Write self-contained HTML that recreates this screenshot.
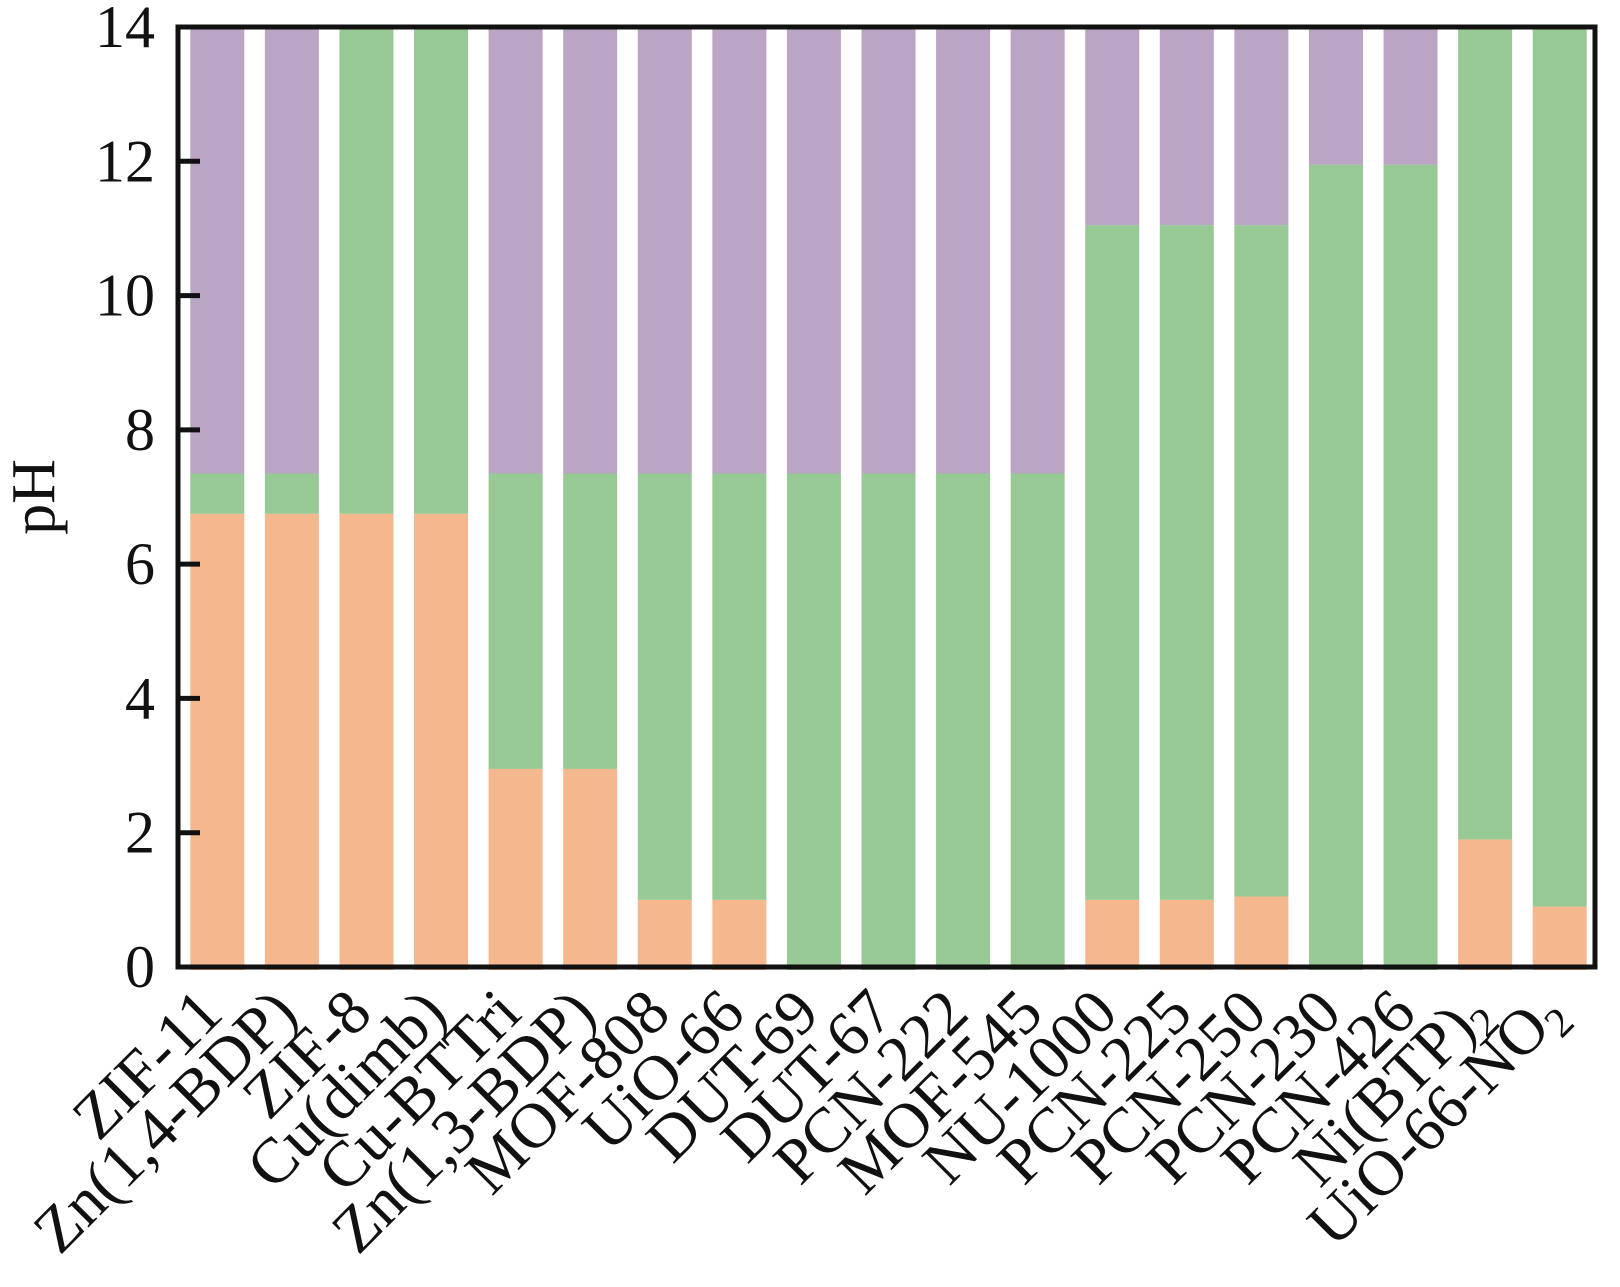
<!DOCTYPE html>
<html><head><meta charset="utf-8"><style>
html,body{margin:0;padding:0;background:#fff;}
svg{display:block;}
text{font-family:"Liberation Serif","Times New Roman",Times,serif;fill:#111;}
</style></head><body>
<svg id="chart" width="1620" height="1287" viewBox="0 0 1620 1287" xmlns="http://www.w3.org/2000/svg"></svg>
<script>
const categories = ["ZIF-11","Zn(1,4-BDP)","ZIF-8","Cu(dimb)","Cu-BTTri","Zn(1,3-BDP)","MOF-808","UiO-66","DUT-69","DUT-67","PCN-222","MOF-545","NU-1000","PCN-225","PCN-250","PCN-230","PCN-426","Ni(BTP)2","UiO-66-NO2"];
const lowerPH = [6.75,6.75,6.75,6.75,2.95,2.95,1,1,0,0,0,0,1,1,1.05,0,0,1.9,0.9];
const upperPH = [7.35,7.35,14,14,7.35,7.35,7.35,7.35,7.35,7.35,7.35,7.35,11.05,11.05,11.05,11.95,11.95,14,14];
const maxPH = [14,14,14,14,14,14,14,14,14,14,14,14,14,14,14,14,14,14,14];
const yTicks = [0,2,4,6,8,10,12,14];

const svg = document.getElementById('chart');
const NS = 'http://www.w3.org/2000/svg';
const FONT = '"Liberation Serif", "Times New Roman", Times, serif';
const L = 178, R = 1595, T = 27, B = 967;
const band = (R - L) / categories.length;
const barW = 54;
function x(i){ return L + band * i + band / 2 + 2; }
function y(v){ return B - (v / 14) * (B - T); }
function mk(tag, attrs){ const e = document.createElementNS(NS, tag); for (const k in attrs) e.setAttribute(k, attrs[k]); svg.appendChild(e); return e; }

categories.forEach((c, i) => {
  const cx = x(i);
  const segs = [[0, lowerPH[i], '#F5B78E', 'acid-range'], [lowerPH[i], upperPH[i], '#97C994', 'stable-range'], [upperPH[i], maxPH[i], '#BBA5C5', 'base-range']];
  segs.forEach(s => {
    if (s[1] - s[0] <= 0) return;
    const bot = s[0] === 0 ? y(0) + 3 : y(s[0]);
    const r = mk('rect', {x: cx - barW/2, y: y(s[1]), width: barW, height: bot - y(s[1]), fill: s[2]});
    
    
  });
  const t = mk('text', {transform: `translate(${cx + 8},1016) rotate(-45)`, 'text-anchor': 'end', 'font-size': 64, 'font-family': FONT});
  
  
  if (c.endsWith(')2') || c.endsWith('NO2')) {
    t.appendChild(document.createTextNode(c.slice(0, -1)));
    const s = document.createElementNS(NS, 'tspan');
    s.setAttribute('font-size', 42); s.setAttribute('dy', 12); s.textContent = '2';
    t.appendChild(s);
  } else t.textContent = c;
});

const frame = mk('rect', {x: L, y: T, width: R - L, height: B - T, fill: 'none', stroke: '#111', 'stroke-width': 5});



yTicks.forEach(v => {
  const tk = mk('line', {x1: L, x2: L + 22, y1: y(v), y2: y(v), stroke: '#111', 'stroke-width': 5});
  
  
  const lb = mk('text', {x: 155, y: y(v) + 20, 'text-anchor': 'end', 'font-size': 60, 'font-family': FONT});
  
  
  lb.textContent = v;
});

const yt = mk('text', {transform: 'translate(54,497) rotate(-90)', 'text-anchor': 'middle', 'font-size': 62, 'font-family': FONT});


yt.textContent = 'pH';
</script>
</body></html>
